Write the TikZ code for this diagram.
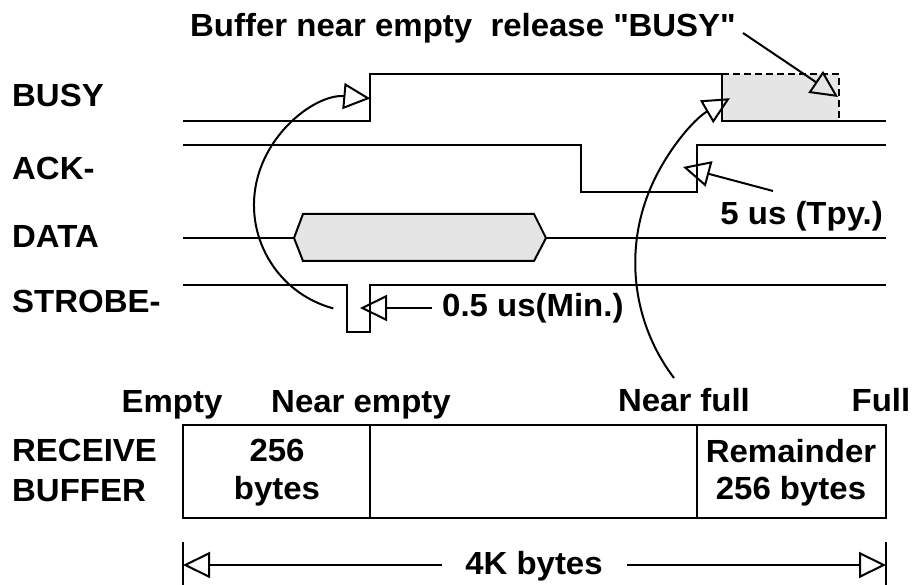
\documentclass[tikz,border=0pt]{standalone}
\usepackage{fontspec}
\setmainfont{Liberation Sans}[FakeStretch=1.03]
\usetikzlibrary{arrows.meta}
\definecolor{fillgray}{RGB}{229,229,229}
\newcommand\straightquote{\XeTeXglyph\XeTeXcharglyph"22\relax}
\begin{document}
\begin{tikzpicture}[x=1pt,y=-1pt,
  wave/.style={line width=2pt,line join=miter},
  arr/.style={line width=2pt,-{Triangle[open,length=27pt,width=26pt,line width=2pt]}},
  lbl/.style={inner sep=0pt,font=\fontsize{32}{36}\selectfont\bfseries},
  lblw/.style={lbl,anchor=base west},
  lblc/.style={lbl,anchor=base},
  lble/.style={lbl,anchor=base east}]
\useasboundingbox (0,0) rectangle (914,585);

% ---- waveforms ----
% BUSY
\fill[fillgray] (722,74) rectangle (839,121);
\draw[wave,dash pattern=on 7pt off 4pt] (722,74) -- (839,74) -- (839,121);
\draw[wave] (183,121) -- (370,121) -- (370,74) -- (722,74) -- (722,121) -- (886,121);
% ACK-
\draw[wave] (183,145) -- (581,145) -- (581,192) -- (697,192) -- (697,145) -- (886,145);
% DATA
\draw[wave] (183,238) -- (294,238);
\draw[wave,fill=fillgray] (294,238) -- (303,214) -- (534,214) -- (546,238) -- (534,261) -- (303,261) -- cycle;
\draw[wave] (546,238) -- (886,238);
% STROBE-
\draw[wave] (183,285) -- (347,285) -- (347,332) -- (370,332) -- (370,285) -- (886,285);

% ---- labels ----
\node[lblw] (lbusy) at (12,107) {BUSY};
\node[lblw] (lack) at (12,180) {ACK-};
\node[lblw] (ldata) at (12,248) {DATA};
\node[lblw] (lstrobe) at (12,313) {STROBE-};
\node[lblw] (ltop) at (190,37) {Buffer near empty\ \ release \straightquote BUSY\straightquote};
\node[lble] (l5us) at (883,225) {5 us (Tpy.)};
\node[lblw] (l05us) at (442,317) {0.5 us(Min.)};

% ---- arrows ----
\coordinate (topS) at (743,33);
\coordinate (topT) at (838,97);
\draw[arr] (topS) -- (topT);
\coordinate (ackS) at (773,191);
\coordinate (ackT) at (683,167);
\draw[arr] (ackS) -- (ackT);
\coordinate (strS) at (432,308);
\coordinate (strT) at (360,308);
\draw[arr] (strS) -- (strT);
\coordinate (c1s) at (333.3,308.4);
\draw[arr] (c1s) arc[start angle=255,end angle=85,radius=107pt];
\coordinate (c2s) at (674,378);
\draw[arr] (c2s) arc[start angle=217.2,end angle=120.2,radius=190.5pt];

% ---- buffer ----
\node[lblc] (lempty) at (172,413) {Empty};
\node[lblc] (lnempty) at (361,413) {Near empty};
\node[lblc] (lnfull) at (684,412) {Near full};
\node[lblc] (lfull) at (881,412) {Full};
\node[lblw] (lrec) at (12,462) {RECEIVE};
\node[lblw] (lbuf) at (12,502) {BUFFER};
\draw[wave] (183,425) rectangle (886,518);
\draw[wave] (370,425) -- (370,518);
\draw[wave] (697,425) -- (697,518);
\node[lblc] (b256) at (277,462) {256};
\node[lblc] (bbytes) at (277,500) {bytes};
\node[lblc] (brem) at (791,463) {Remainder};
\node[lblc] (brem2) at (791,500) {256 bytes};

% ---- dimension ----
\coordinate (tL1) at (183,542);
\coordinate (tL2) at (183,585);
\coordinate (tR1) at (886,542);
\coordinate (tR2) at (886,585);
\draw[wave] (tL1) -- (tL2);
\draw[wave] (tR1) -- (tR2);
\node[lblc] (l4k) at (534,574) {4K bytes};
\coordinate (dL) at (442,565);
\coordinate (dLt) at (183,565);
\coordinate (dR) at (627,565);
\coordinate (dRt) at (886,565);
\draw[arr] (dL) -- (dLt);
\draw[arr] (dR) -- (dRt);
\end{tikzpicture}
\end{document}
